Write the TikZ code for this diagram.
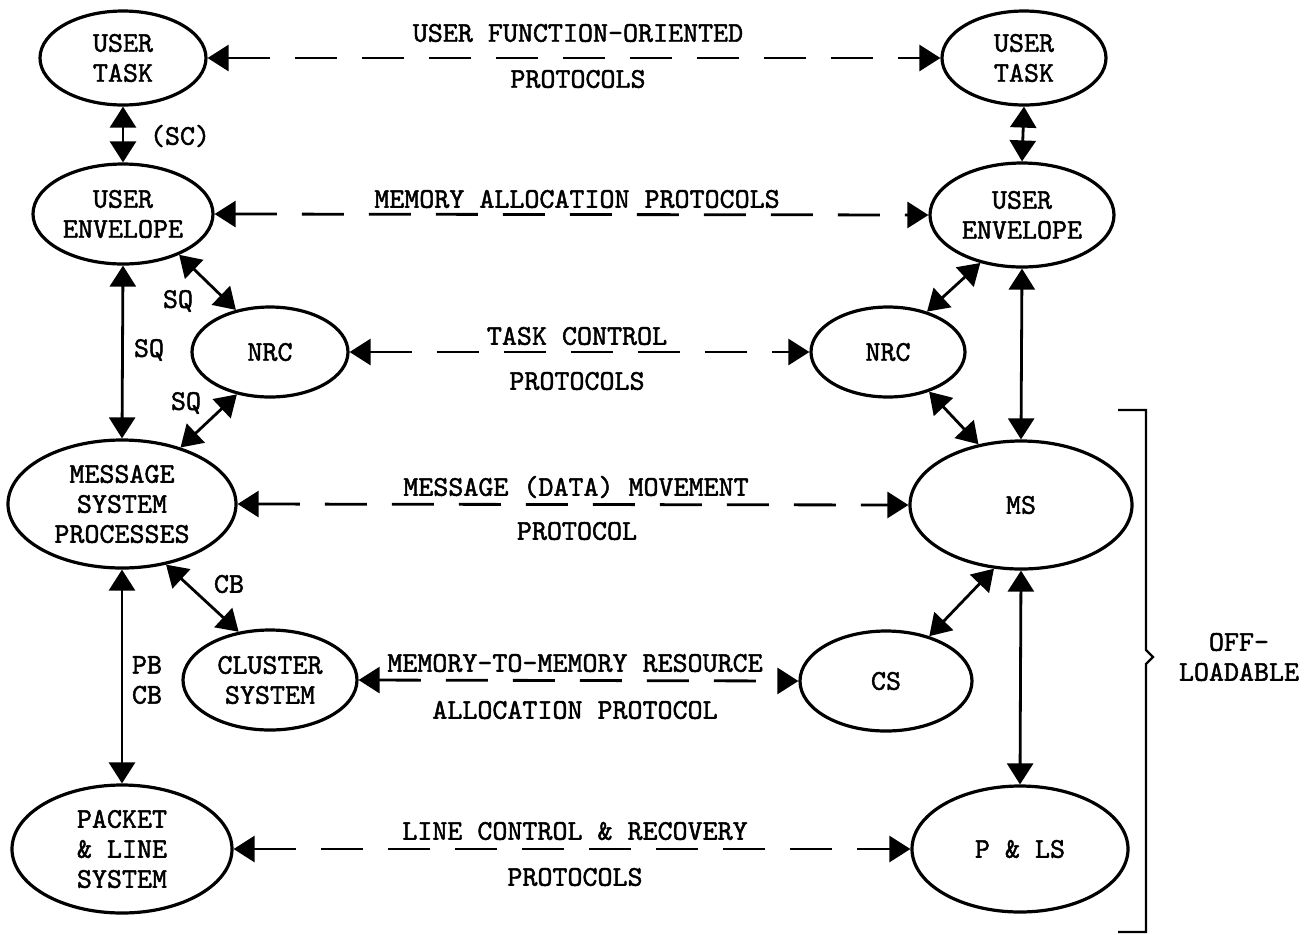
\documentclass[tikz,border=0pt]{standalone}
\usepackage{fontspec}
\setmainfont{lmmono10-regular.otf}[FakeBold=1.6]
\usetikzlibrary{shapes.geometric,arrows.meta}
\begin{document}
\begin{tikzpicture}[x=0.5pt,y=-0.5pt,
  every node/.style={font=\fontsize{14.3}{15}\selectfont},
  ell/.style={draw, ellipse, line width=1.6pt, inner sep=0pt, align=center},
  link/.style={line width=1.4pt, {Triangle[length=10.5pt,width=13pt]}-{Triangle[length=10.5pt,width=13pt]}},
  proto/.style={link, dash pattern=on 21pt off 12.5pt},
  lbl/.style={inner sep=0pt, align=center}]
\useasboundingbox (0,0) rectangle (1308,934);

% left column
\node[ell, minimum width=83pt, minimum height=47pt] (ut1) at (123,58) {USER\\TASK};
\node[ell, minimum width=90pt, minimum height=50pt] (ue1) at (123,214) {USER\\ENVELOPE};
\node[ell, minimum width=78pt, minimum height=45pt] (nrc1) at (270,352) {NRC};
\node[ell, minimum width=114pt, minimum height=64pt] (msp) at (122,504) {MESSAGE\\SYSTEM\\PROCESSES};
\node[ell, minimum width=87pt, minimum height=50pt] (cl) at (270,680) {CLUSTER\\SYSTEM};
\node[ell, minimum width=110pt, minimum height=64pt] (pk) at (122,849) {PACKET\\\& LINE\\SYSTEM};

% right column
\node[ell, minimum width=82pt, minimum height=47pt] (ut2) at (1024,58) {USER\\TASK};
\node[ell, minimum width=92pt, minimum height=52pt] (ue2) at (1022,215) {USER\\ENVELOPE};
\node[ell, minimum width=77pt, minimum height=45pt] (nrc2) at (888,352) {NRC};
\node[ell, minimum width=111pt, minimum height=64pt] (ms) at (1021,505) {MS};
\node[ell, minimum width=86pt, minimum height=50pt] (cs) at (886,681) {CS};
\node[ell, minimum width=108pt, minimum height=63pt] (pls) at (1020,849) {P \& LS};

% protocol (dashed) links
\draw[proto] (ut1.east) -- (ut2.west);
\draw[proto] (ue1.east) -- (ue2.west);
\draw[proto] (nrc1.east) -- (nrc2.west);
\draw[proto] (msp.east) -- (ms.west);
\draw[proto] (cl.east) -- (cs.west);
\draw[proto] (pk.east) -- (pls.west);

\node[lbl] (p1a) at (578,33) {USER FUNCTION-ORIENTED};
\node[lbl] (p1b) at (578,79) {PROTOCOLS};
\node[lbl] (p2a) at (577,199) {MEMORY ALLOCATION PROTOCOLS};
\node[lbl] (p3a) at (577,336) {TASK CONTROL};
\node[lbl] (p3b) at (577,381) {PROTOCOLS};
\node[lbl] (p4a) at (576,487) {MESSAGE (DATA) MOVEMENT};
\node[lbl] (p4b) at (577,531) {PROTOCOL};
\node[lbl] (p5a) at (575,663) {MEMORY-TO-MEMORY RESOURCE};
\node[lbl] (p5b) at (575,710) {ALLOCATION PROTOCOL};
\node[lbl] (p6a) at (575,831) {LINE CONTROL \& RECOVERY};
\node[lbl] (p6b) at (575,877) {PROTOCOLS};

% solid links left
\draw[link] (ut1.south) -- (ue1.north);
\draw[link] (ue1.south) -- (msp.north);
\draw[link] (ue1.-36) -- (nrc1.129);
\draw[link] (nrc1.232) -- (msp.44);
\draw[link] (msp.-54) -- (cl.123);
\draw[link] (msp.south) -- (pk.north);

\node[lbl] (sc) at (180,136) {(SC)};
\node[lbl] (sq1) at (178,301) {SQ};
\node[lbl] (sq2) at (149,350) {SQ};
\node[lbl] (sq3) at (186,403) {SQ};
\node[lbl] (cb1) at (229,584) {CB};
\node[lbl] (pbcb) at (147,680) {PB\\CB};

% solid links right
\draw[link] (ut2.south) -- (ue2.north);
\draw[link] (ue2.229) -- (nrc2.46);
\draw[link] (nrc2.-44) -- (ms.125);
\draw[link] (ue2.south) -- (ms.north);
\draw[link] (ms.247) -- (cs.46);
\draw[link] (ms.south) -- (pls.north);

% bracket
\draw[line width=1.2pt] (1118,410) -- (1146,410) -- (1146,650) -- (1153,657) -- (1146,664) -- (1146,932) -- (1118,932);
\node[lbl] (off) at (1239,657) {OFF-\\LOADABLE};
\end{tikzpicture}
\end{document}
